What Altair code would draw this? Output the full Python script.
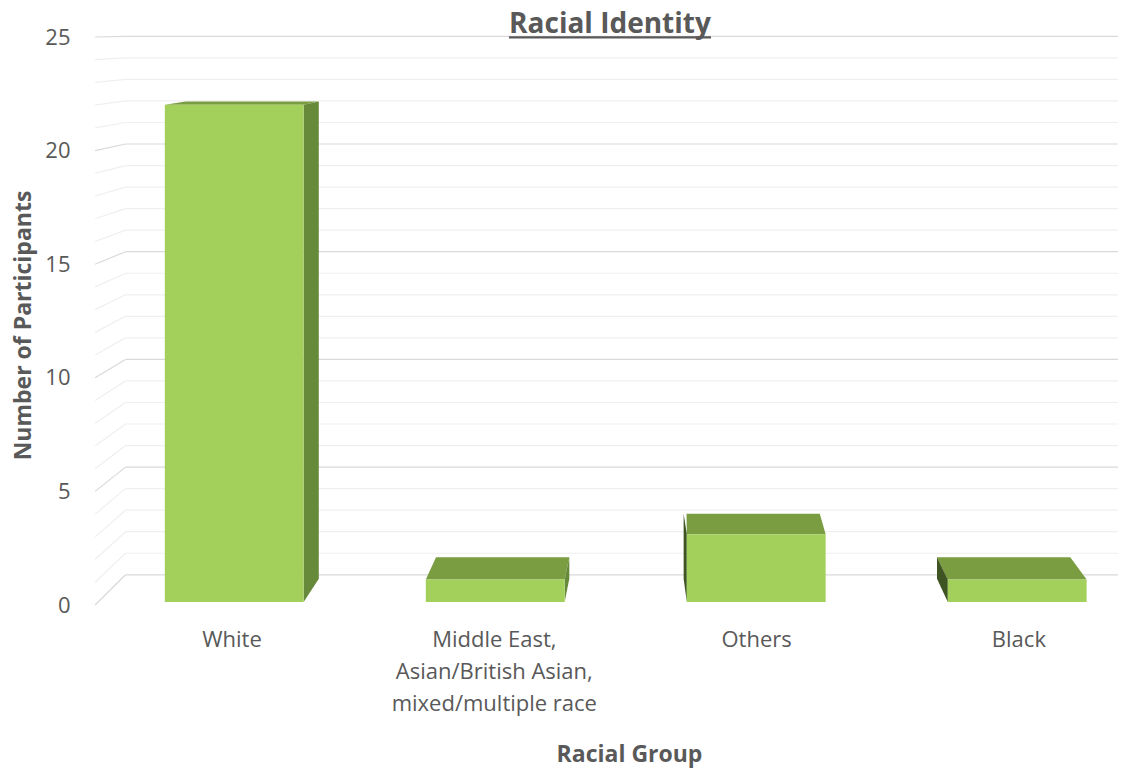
import altair as alt
import pandas as pd

# ---------------- data ----------------
categories = ["White", "Middle East,\nAsian/British Asian,\nmixed/multiple race", "Others", "Black"]
participants = [22, 1, 3, 1]
y_ticks = [0, 5, 10, 15, 20, 25]
grid_levels = list(range(0, 26))
title_text = "Racial Identity"

# ---------------- geometry / style ----------------
W, H = 1028, 568
X_DOM = [-0.5414, 3.3778]
Y_DOM = [0, 25]
VP = (1.708, 25.57)          # vanishing point (data units)
HALF = 0.266                 # half bar width (category units)
T_FRONT, T_BACK, T_WALL = 0.005, 0.045, 0.052
WALL_X = -0.522
FONT = "Open Sans"
TXT = "#595959"
COL_FRONT, COL_TOP, COL_SIDE_R, COL_SIDE_L = "#a3d05b", "#7a9d41", "#67893a", "#3f5423"


def proj(x, y, t):
    return x + t * (VP[0] - x), y + t * (VP[1] - y)


def bounds_at(poly, x):
    ys = []
    n = len(poly)
    for k in range(n):
        (px, py), (qx, qy) = poly[k], poly[(k + 1) % n]
        lo, hi = min(px, qx) - 1e-9, max(px, qx) + 1e-9
        if lo <= x <= hi:
            if abs(qx - px) < 1e-12:
                ys += [py, qy]
            else:
                ys.append(py + (x - px) / (qx - px) * (qy - py))
    return min(ys), max(ys)


# gridlines (back wall + left side wall)
grid_rows = []
for v in grid_levels:
    fx, fy = proj(WALL_X, v, 0.0)
    bx, by = proj(WALL_X, v, T_WALL)
    major = "major" if v % 5 == 0 else "minor"
    grid_rows.append(dict(x=bx, x2=X_DOM[1], y=by, y2=by, kind=major))
    grid_rows.append(dict(x=fx, x2=bx, y=fy, y2=by, kind=major))
grid_df = pd.DataFrame(grid_rows)

# bar faces
face_rows, front_rows = [], []
for i, (cat, val) in enumerate(zip(categories, participants)):
    xl, xr = i - HALF, i + HALF
    fl = proj(xl, val, T_FRONT)
    fr = proj(xr, val, T_FRONT)
    bl = proj(xl, val, T_BACK)
    br = proj(xr, val, T_BACK)
    flb = proj(xl, 0, T_FRONT)
    frb = proj(xr, 0, T_FRONT)
    blb = proj(xl, 0, T_BACK)
    brb = proj(xr, 0, T_BACK)
    front_rows.append(dict(x=flb[0], x2=frb[0], y=flb[1], y2=fl[1], cat=cat))
    poly = [fl, fr, br, bl]
    xs_ = sorted(set(round(p[0], 9) for p in poly))
    for x in xs_:
        lo, hi = bounds_at(poly, x)
        face_rows.append(dict(face=f"top{i}", kind="top", x=x, y=lo, y2=hi))
    if xr < VP[0]:
        face_rows.append(dict(face=f"side{i}", kind="side_r", x=frb[0], y=frb[1], y2=fr[1]))
        face_rows.append(dict(face=f"side{i}", kind="side_r", x=brb[0], y=brb[1], y2=br[1]))
    if xl > VP[0] - 0.03:
        face_rows.append(dict(face=f"side{i}", kind="side_l", x=min(blb[0], flb[0] - 0.012), y=blb[1], y2=bl[1]))
        face_rows.append(dict(face=f"side{i}", kind="side_l", x=flb[0], y=flb[1], y2=fl[1]))
face_df = pd.DataFrame(face_rows)
front_df = pd.DataFrame(front_rows)
label_df = pd.DataFrame({"i": list(range(len(categories))), "label": categories})
title_df = pd.DataFrame({"t": [title_text]})

xs = alt.Scale(domain=X_DOM, nice=False, zero=False)
ys = alt.Scale(domain=Y_DOM, nice=False, zero=False)

yaxis = alt.Axis(
    values=y_ticks, ticks=False, domain=False, grid=False,
    labelFont=FONT, labelFontSize=22, labelColor=TXT, labelPadding=20,
    title="Number of Participants", titleFont=FONT, titleFontSize=23,
    titleFontWeight="bold", titleColor=TXT, titleX=-67, titleY=288,
    titleAlign="center", titleBaseline="middle", titleAngle=-90)
xaxis = alt.Axis(
    labels=False, ticks=False, domain=False, grid=False,
    title="Racial Group", titleFont=FONT, titleFontSize=23, titleFontWeight="bold",
    titleColor=TXT, titleX=539, titleY=156, titleAlign="center", titleBaseline="alphabetic")

grid = alt.Chart(grid_df).mark_rule(strokeWidth=1.2).encode(
    x=alt.X("x:Q", scale=xs, axis=xaxis),
    x2="x2:Q",
    y=alt.Y("y:Q", scale=ys, axis=yaxis),
    y2="y2:Q",
    color=alt.Color("kind:N", scale=alt.Scale(domain=["major", "minor"],
                                              range=["#d9d9d9", "#efefef"]), legend=None),
)

faces = alt.Chart(face_df).mark_area(orient="vertical", interpolate="linear").encode(
    x=alt.X("x:Q", scale=xs, axis=xaxis),
    y=alt.Y("y:Q", scale=ys, axis=yaxis),
    y2="y2:Q",
    detail="face:N",
    color=alt.Color("kind:N", scale=alt.Scale(domain=["top", "side_r", "side_l"],
                                              range=[COL_TOP, COL_SIDE_R, COL_SIDE_L]), legend=None),
)

fronts = alt.Chart(front_df).mark_rect(color=COL_FRONT).encode(
    x=alt.X("x:Q", scale=xs, axis=xaxis),
    x2="x2:Q",
    y=alt.Y("y:Q", scale=ys, axis=yaxis),
    y2="y2:Q",
)

labels = alt.Chart(label_df).mark_text(
    font=FONT, fontSize=22, color=TXT, lineBreak="\n", baseline="alphabetic",
    align="center", lineHeight=32,
).encode(
    x=alt.X("i:Q", scale=xs, axis=xaxis),
    y=alt.value(610),
    text="label:N",
)

title = alt.Chart(title_df).mark_text(
    font=FONT, fontSize=28, fontWeight="bold", color=TXT, baseline="alphabetic", align="center",
).encode(x=alt.value(520), y=alt.value(-4), text="t:N")

underline = alt.Chart(title_df).mark_rule(color=TXT, strokeWidth=2.2).encode(
    x=alt.value(419), x2=alt.value(621), y=alt.value(0.3)
)

chart = alt.layer(grid, faces, fronts, labels, title, underline).resolve_scale(color="independent").properties(
    width=W, height=H,
    padding={"left": 82, "top": 29, "right": 0, "bottom": 163},
    autosize=alt.AutoSizeParams(type="none"),
    background="white",
).configure_view(stroke=None)

chart.save("out.html", embed_options={"renderer": "svg", "actions": False})
